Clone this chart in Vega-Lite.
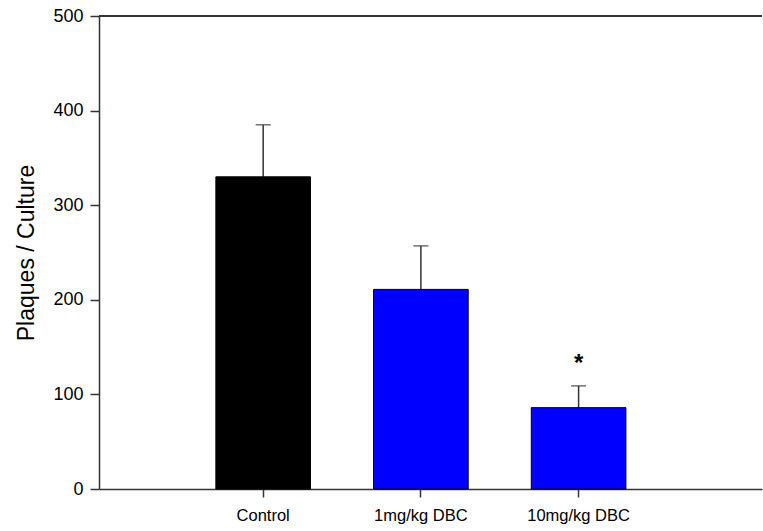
{
  "$schema": "https://vega.github.io/schema/vega-lite/v6.json",
  "autosize": "none",
  "width": 663,
  "height": 473,
  "padding": {"left": 99, "top": 16, "right": 1, "bottom": 42},
  "background": "white",
  "config": {
    "view": {"stroke": null},
    "font": "Liberation Sans",
    "axis": {"grid": false, "domainColor": "#333333", "domainWidth": 1.5, "tickColor": "#333333", "tickWidth": 1.5, "labelColor": "#000000", "titleColor": "#000000", "labelFont": "Liberation Sans", "titleFont": "Liberation Sans"}
  },
  "data": {
    "values": [
      {"group": "Control", "mean": 330, "upper": 385, "sig": ""},
      {"group": "1mg/kg DBC", "mean": 211, "upper": 257, "sig": ""},
      {"group": "10mg/kg DBC", "mean": 86, "upper": 109, "sig": "*"}
    ]
  },
  "layer": [
    {
      "mark": {"type": "rule", "color": "#333333", "strokeWidth": 1.5},
      "encoding": {
        "x": {"field": "group", "type": "nominal", "sort": null},
        "y": {"field": "mean", "type": "quantitative"}, "y2": {"field": "upper"}}
    },
    {
      "mark": {"type": "tick", "color": "#333333", "thickness": 1.5, "size": 15},
      "encoding": {
        "x": {"field": "group", "type": "nominal", "sort": null},
        "y": {"field": "upper", "type": "quantitative"}}
    },
    {
      "mark": {"type": "bar", "stroke": "#000000", "strokeWidth": 1},
      "encoding": {
        "x": {
          "field": "group", "type": "nominal", "sort": null,
          "scale": {"paddingInner": 0.4, "paddingOuter": 0.802, "align": 0.462},
          "axis": {"title": null, "labelAngle": 0, "labelAlign": "center", "labelBaseline": "top", "labelFontSize": 16.5, "tickSize": 8, "labelPadding": 10}
        },
        "y": {
          "field": "mean", "type": "quantitative",
          "scale": {"domain": [0, 500], "nice": false},
          "axis": {"title": "Plaques / Culture", "titleFontSize": 23, "titleFontWeight": "normal", "titlePadding": 14, "labelFontSize": 18, "tickSize": 9, "labelPadding": 7, "values": [0, 100, 200, 300, 400, 500]}
        },
        "color": {
          "field": "group", "type": "nominal",
          "scale": {"domain": ["Control", "1mg/kg DBC", "10mg/kg DBC"], "range": ["#000000", "#0000FF", "#0000FF"]},
          "legend": null
        }
      }
    },
    {
      "mark": {"type": "text", "fontSize": 24, "fontWeight": "bold", "color": "#000000", "baseline": "middle", "dy": 7},
      "encoding": {
        "x": {"field": "group", "type": "nominal", "sort": null},
        "y": {"datum": 140, "type": "quantitative"},
        "text": {"field": "sig"}
      }
    },
    {
      "mark": {"type": "rule", "color": "#333333", "strokeWidth": 1.5},
      "encoding": {"y": {"datum": 500, "type": "quantitative"}}
    }
  ]
}
